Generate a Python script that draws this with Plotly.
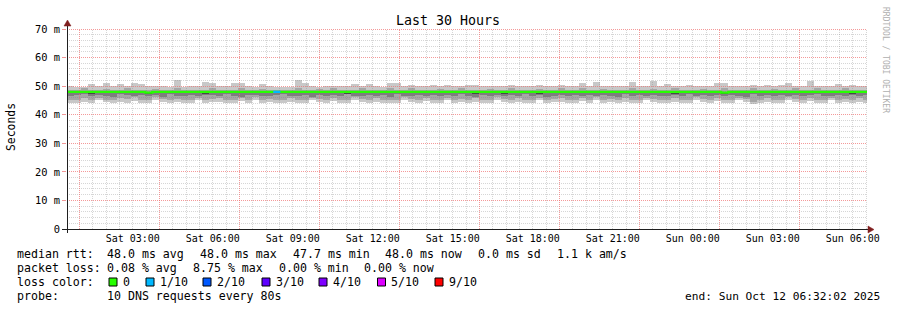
import math
import plotly.graph_objects as go
from datetime import datetime, timedelta

# ---------------- data ----------------
start = datetime(2025, 10, 11, 0, 32, 2)
end = datetime(2025, 10, 12, 6, 32, 2)
step_s = 960  # consolidation step (seconds)

# smoke extents per column (ms)
smoke_max = [
    49.9, 49.6, 49.7, 50.8, 49.9, 51.2, 49.9, 50.8, 49.9, 51.1,
    50.8, 49.9, 49.9, 49.9, 49.7, 52.0, 49.7, 49.9, 49.9, 51.5,
    51.2, 49.9, 49.9, 51.2, 51.2, 49.9, 49.7, 50.7, 49.9, 49.8,
    49.6, 49.7, 52.0, 51.2, 49.9, 49.8, 50.2, 50.2, 50.2, 49.9,
    50.8, 49.9, 50.8, 49.9, 49.7, 51.2, 51.2, 49.9, 50.4, 49.9,
    49.9, 50.5, 49.9, 50.4, 49.9, 49.9, 50.3, 50.5, 49.9, 49.9,
    50.2, 49.9, 50.5, 49.9, 49.9, 50.2, 50.5, 49.9, 50.2, 50.5,
    49.9, 49.9, 51.2, 49.9, 51.5, 49.9, 49.9, 50.2, 49.9, 51.5,
    49.9, 49.9, 51.7, 50.2, 50.8, 49.9, 49.9, 50.5, 49.9, 49.9,
    49.9, 51.2, 51.2, 49.9, 49.9, 49.9, 50.5, 49.9, 50.5, 49.9,
    50.5, 51.2, 49.9, 49.9, 51.7, 49.9, 49.9, 49.9, 50.8, 49.9,
    50.5, 49.9, 49.9]
smoke_hi = [
    48.6, 48.6, 49.3, 48.6, 48.5, 49.0, 48.6, 48.6, 49.3, 48.6,
    48.5, 48.6, 49.0, 48.6, 48.6, 49.5, 48.6, 48.5, 48.6, 48.6,
    49.3, 48.6, 48.6, 48.6, 49.5, 48.6, 48.6, 49.0, 48.6, 48.5,
    48.6, 48.6, 49.5, 48.6, 48.6, 49.0, 48.6, 49.3, 48.6, 48.6,
    48.6, 49.3, 48.6, 48.6, 48.5, 49.3, 48.6, 48.6, 49.5, 48.6,
    48.6, 48.6, 49.0, 48.6, 48.6, 49.3, 48.6, 48.6, 48.6, 49.0,
    48.6, 48.6, 49.3, 48.6, 48.6, 48.6, 49.0, 48.6, 48.6, 49.3,
    48.6, 48.6, 49.3, 48.6, 48.6, 49.0, 48.6, 48.6, 48.6, 49.5,
    48.6, 48.6, 49.0, 48.6, 48.6, 49.3, 48.6, 48.6, 48.6, 49.0,
    48.6, 48.6, 49.5, 48.6, 48.6, 48.6, 49.3, 48.6, 48.6, 49.0,
    48.6, 48.6, 49.3, 48.6, 48.6, 49.3, 48.6, 48.6, 48.6, 49.3,
    48.6, 48.6, 48.6]
smoke_lo = [
    45.3, 45.0, 45.8, 45.2, 46.0, 45.3, 45.0, 45.7, 45.4, 46.1,
    45.2, 45.0, 46.2, 45.4, 45.1, 45.6, 45.2, 45.3, 46.0, 45.0,
    45.4, 45.8, 45.2, 45.0, 45.9, 45.3, 46.2, 45.1, 45.4, 45.2,
    45.0, 45.7, 45.3, 45.1, 46.0, 45.4, 45.2, 45.8, 45.0, 45.3,
    46.1, 45.4, 45.0, 45.7, 45.3, 45.2, 45.0, 46.2, 45.4, 45.1,
    45.8, 45.2, 45.3, 46.0, 45.0, 45.4, 45.2, 45.7, 45.0, 45.3,
    46.1, 45.4, 45.0, 45.7, 45.2, 45.3, 46.0, 45.0, 45.4, 45.7,
    45.2, 45.0, 45.9, 45.3, 46.1, 45.0, 45.4, 45.2, 45.7, 45.0,
    45.3, 46.0, 45.4, 45.2, 45.0, 45.7, 45.3, 45.0, 46.1, 45.4,
    45.2, 45.8, 45.0, 45.3, 46.0, 45.4, 44.6, 45.2, 45.7, 45.0,
    45.3, 46.1, 45.4, 45.0, 45.7, 45.2, 45.3, 46.0, 45.0, 45.4,
    45.2, 45.7, 45.0]
smoke_min = [
    44.2, 44.0, 44.6, 44.1, 45.0, 44.3, 44.0, 44.6, 44.2, 44.9,
    44.1, 44.0, 45.2, 44.3, 44.0, 44.6, 44.1, 44.2, 45.0, 44.0,
    44.3, 44.6, 44.1, 44.0, 44.8, 44.2, 45.1, 44.0, 44.3, 44.1,
    44.0, 44.6, 44.2, 44.0, 45.0, 44.3, 44.1, 44.7, 44.0, 44.2,
    45.1, 44.3, 44.0, 44.6, 44.2, 44.1, 44.0, 45.2, 44.3, 44.0,
    44.7, 44.1, 44.2, 45.0, 44.0, 44.3, 44.1, 44.6, 44.0, 44.2,
    45.1, 44.3, 44.0, 44.6, 44.1, 44.2, 45.0, 44.0, 44.3, 44.6,
    44.1, 44.0, 44.8, 44.2, 45.1, 44.0, 44.3, 44.1, 44.6, 44.0,
    44.2, 45.0, 44.3, 44.1, 44.0, 44.6, 44.2, 44.0, 45.0, 44.3,
    44.1, 44.7, 44.0, 44.2, 45.1, 44.3, 43.6, 44.0, 44.6, 44.2,
    44.1, 45.0, 44.3, 44.0, 44.7, 44.1, 44.2, 45.0, 44.0, 44.3,
    44.1, 44.6, 44.0]
smoke_dark_lo = [
    46.6, 46.9, 47.2, 46.4, 47.0, 46.7, 46.3, 47.1, 46.8, 46.5,
    47.0, 46.6, 46.9, 46.3, 47.2, 46.7, 46.5, 47.0, 46.4, 46.8,
    46.9, 46.5, 47.1, 46.6, 46.3, 46.9, 47.0, 46.6, 46.4, 46.8,
    47.1, 46.5, 46.7, 46.9, 46.3, 47.0, 46.6, 46.8, 46.4, 47.1,
    46.7, 46.5, 47.0, 46.6, 46.9, 46.3, 47.1, 46.7, 46.5, 46.9,
    46.6, 47.0, 46.4, 46.8, 46.5, 47.1, 46.7, 46.3, 46.9, 46.6,
    47.0, 46.5, 46.8, 46.4, 47.1, 46.6, 46.9, 46.3, 46.7, 47.0,
    46.5, 46.8, 46.6, 47.0, 46.4, 46.9, 46.7, 46.3, 47.1, 46.6,
    46.8, 46.5, 47.0, 46.6, 46.4, 46.9, 46.7, 47.1, 46.5, 46.8,
    46.6, 47.0, 46.4, 46.9, 46.7, 46.3, 47.1, 46.6, 46.8, 46.5,
    47.0, 46.6, 46.9, 46.4, 46.8, 47.1, 46.5, 46.7, 46.9, 46.6,
    46.8, 46.5, 47.0]
core_cols = [3, 11, 19, 39, 57, 61, 66, 85, 92, 110]
core_lo = [47.4, 47.5, 47.4, 47.3, 47.4, 47.5, 47.4, 47.4, 47.5, 47.4]

median = [48.0] * 113
median_dips = {11: 47.7, 92: 47.7}
loss_cols = [29]
loss_vals = [1]

loss_colors = {0: "#26ff00", 1: "#00b8ff", 2: "#0059ff", 3: "#5e00ff",
               4: "#7e00ff", 5: "#dd00ff", 9: "#ff0000"}
loss_labels = ["0", "1/10", "2/10", "3/10", "4/10", "5/10", "9/10"]
loss_keys = [0, 1, 2, 3, 4, 5, 9]

xtick_times = [datetime(2025, 10, 11, 3), datetime(2025, 10, 11, 6), datetime(2025, 10, 11, 9),
               datetime(2025, 10, 11, 12), datetime(2025, 10, 11, 15), datetime(2025, 10, 11, 18),
               datetime(2025, 10, 11, 21), datetime(2025, 10, 12, 0), datetime(2025, 10, 12, 3),
               datetime(2025, 10, 12, 6)]
xtick_text = ["Sat 03:00", "Sat 06:00", "Sat 09:00", "Sat 12:00", "Sat 15:00", "Sat 18:00",
              "Sat 21:00", "Sun 00:00", "Sun 03:00", "Sun 06:00"]
ytick_vals = [0, 10, 20, 30, 40, 50, 60, 70]
ytick_text = ["0", "10 m", "20 m", "30 m", "40 m", "50 m", "60 m", "70 m"]

# legend rows: list of (text, x-pixel) pieces
legend_rows = [
    [("median rtt:", 16.7), ("48.0 ms avg", 107.3), ("48.0 ms max", 200.0), ("47.7 ms min", 292.7),
     ("48.0 ms now", 385.4), ("0.0 ms sd", 478.2), ("1.1 k am/s", 557.0)],
    [("packet loss:", 16.7), ("0.08 % avg", 107.3), ("8.75 % max", 192.9), ("0.00 % min", 278.5),
     ("0.00 % now", 364.1)],
    [("loss color:", 16.7)],
    [("probe:", 16.7), ("10 DNS requests every 80s", 107.3)],
]
end_text = "end: Sun Oct 12 06:32:02 2025"

# ---------------- geometry ----------------
W, H = 897, 310
L, R, T, B = 67, 867, 29, 229
YMAX = 70
TOTAL_S = (end - start).total_seconds()


def px(x):
    return (x - L) / (R - L)


def py(y):
    return (B - y) / (B - T)


def snap_t(t):
    # place a grid line on a pixel centre so the dotted line stays crisp
    p = (t - start).total_seconds() / TOTAL_S * (R - L)
    p = math.floor(p) + 0.5
    return start + timedelta(seconds=p / (R - L) * TOTAL_S)


def snap_v(v):
    p = v / YMAX * (B - T)
    p = math.floor(p) + 0.5
    return p / (B - T) * YMAX


n = len(smoke_max)
for i, v in median_dips.items():
    median[i] = v
col_start = [start + timedelta(seconds=i * step_s) for i in range(n)]
col_mid = [t + timedelta(seconds=step_s / 2) for t in col_start]
wms = step_s * 1000

fig = go.Figure()


def smoke(lo, hi, color, xs=None):
    xs = xs if xs is not None else col_mid
    fig.add_trace(go.Bar(x=xs, base=lo, y=[h - l for h, l in zip(hi, lo)], width=wms,
                         marker=dict(color=color, line=dict(width=0)), hoverinfo="skip",
                         showlegend=False))


smoke(smoke_min, smoke_max, "rgb(200,200,200)")
smoke(smoke_lo, smoke_hi, "rgb(166,166,166)")
smoke(smoke_dark_lo, median, "rgb(126,126,126)")
smoke(core_lo, [median[c] for c in core_cols], "rgb(72,72,72)", xs=[col_mid[c] for c in core_cols])

# grid
minor_t = []
t = datetime(2025, 10, 11, 1, 0)
while t < end:
    minor_t.append(t)
    t += timedelta(minutes=30)
major_t = [datetime(2025, 10, 11, 1) + timedelta(hours=3 * k) for k in range(10)]
minor_y = [v for v in range(2, 70, 2) if v % 10 != 0]
major_y = [10, 20, 30, 40, 50, 60, 70]


def vlines(ts):
    xs, ys = [], []
    for tt in ts:
        st = snap_t(tt)
        xs += [st, st, None]
        ys += [0, YMAX, None]
    return xs, ys


def hlines(vs):
    xs, ys = [], []
    for v in vs:
        sv = snap_v(v) if v < YMAX else snap_v(v - 0.01)
        xs += [start, end, None]
        ys += [sv, sv, None]
    return xs, ys


gx, gy = vlines([m for m in minor_t if m not in major_t])
hx, hy = hlines(minor_y)
fig.add_trace(go.Scatter(x=gx + hx, y=gy + hy, mode="lines", hoverinfo="skip", showlegend=False,
                         line=dict(color="rgba(128,128,128,0.32)", width=1, dash="1px,1px")))
gx, gy = vlines(major_t)
hx, hy = hlines(major_y)
fig.add_trace(go.Scatter(x=gx + hx, y=gy + hy, mode="lines", hoverinfo="skip", showlegend=False,
                         line=dict(color="rgba(240,110,110,0.7)", width=1, dash="1px,1px")))

# median line
fig.add_trace(go.Scatter(x=col_start + [col_start[-1] + timedelta(seconds=step_s)],
                         y=median + [median[-1]], mode="lines", line_shape="hv",
                         line=dict(color=loss_colors[0], width=2.3), hoverinfo="skip", showlegend=False))
for c, lv in zip(loss_cols, loss_vals):
    fig.add_trace(go.Scatter(x=[col_start[c], col_start[c] + timedelta(seconds=step_s)],
                             y=[median[c], median[c]], mode="lines",
                             line=dict(color=loss_colors[lv], width=2.3), hoverinfo="skip",
                             showlegend=False))

# axes lines & arrows
AX = "rgb(31,31,31)"
AR = "rgb(128,31,31)"
shapes = [
    dict(type="line", xref="paper", yref="paper", x0=px(62), x1=px(868), y0=py(229.5), y1=py(229.5),
         line=dict(color=AX, width=1)),
    dict(type="line", xref="paper", yref="paper", x0=px(67.5), x1=px(67.5), y0=py(233), y1=py(24),
         line=dict(color=AX, width=1)),
    dict(type="path", xref="paper", yref="paper",
         path=f"M {px(868)},{py(226)} L {px(868)},{py(233)} L {px(874)},{py(229.5)} Z",
         fillcolor=AR, line=dict(color=AR, width=0.5)),
    dict(type="path", xref="paper", yref="paper",
         path=f"M {px(64)},{py(26)} L {px(71)},{py(26)} L {px(67.5)},{py(20)} Z",
         fillcolor=AR, line=dict(color=AR, width=0.5)),
]

FONT = "DejaVu Sans Mono"
ann = []
ann.append(dict(text="Last 30 Hours", x=px(448), y=py(20), xref="paper", yref="paper",
                showarrow=False, xanchor="center", yanchor="middle",
                font=dict(family=FONT, size=13.3, color="black")))
ann.append(dict(text="Seconds", x=px(11), y=py(127), xref="paper", yref="paper", textangle=-90,
                showarrow=False, xanchor="center", yanchor="middle",
                font=dict(family=FONT, size=11.4, color="black")))
ann.append(dict(text="RRDTOOL / TOBI OETIKER", x=px(886), y=py(60), xref="paper", yref="paper",
                textangle=90, showarrow=False, xanchor="center", yanchor="middle",
                font=dict(family=FONT, size=8.0, color="rgb(175,175,175)")))

line_y = [254, 268, 282, 296]
for row, yy in zip(legend_rows, line_y):
    for txt, xx in row:
        ann.append(dict(text=txt.replace(" ", "\u00a0"), x=px(xx - 2), y=py(yy), xref="paper",
                        yref="paper", showarrow=False, xanchor="left", yanchor="middle",
                        font=dict(family=FONT, size=11.6, color="black")))
ann.append(dict(text=end_text.replace(" ", "\u00a0"), x=px(882), y=py(296), xref="paper", yref="paper",
                showarrow=False, xanchor="right", yanchor="middle",
                font=dict(family=FONT, size=11.2, color="black")))

sq_x = [109, 146, 203, 262, 319, 377.5, 435]
lbl_x = [122.5, 159.5, 217, 275.5, 333, 391, 449]
for k, sx, lx, lab in zip(loss_keys, sq_x, lbl_x, loss_labels):
    shapes.append(dict(type="rect", xref="paper", yref="paper", x0=px(sx), x1=px(sx + 8),
                       y0=py(278), y1=py(286), fillcolor=loss_colors[k],
                       line=dict(color="black", width=1)))
    ann.append(dict(text=lab, x=px(lx - 2), y=py(282), xref="paper", yref="paper", showarrow=False,
                    xanchor="left", yanchor="middle", font=dict(family=FONT, size=11.6, color="black")))

fig.update_layout(
    width=W, height=H, margin=dict(l=L, r=W - R, t=T, b=H - B),
    paper_bgcolor="white", plot_bgcolor="white",
    barmode="overlay", bargap=0, showlegend=False,
    shapes=shapes, annotations=ann,
    xaxis=dict(type="date", range=[start, end], showgrid=False, zeroline=False, showline=False,
               tickmode="array", tickvals=xtick_times, ticktext=xtick_text, ticks="",
               ticklabelstandoff=2,
               tickfont=dict(family=FONT, size=10, color="black"), fixedrange=True),
    yaxis=dict(range=[0, YMAX], showgrid=False, zeroline=False, showline=False,
               tickmode="array", tickvals=ytick_vals, ticktext=ytick_text, ticks="outside",
               ticklen=4, tickcolor="rgb(242,150,150)",
               tickfont=dict(family=FONT, size=10.4, color="black"), fixedrange=True),
)

fig.write_html("out.html")
